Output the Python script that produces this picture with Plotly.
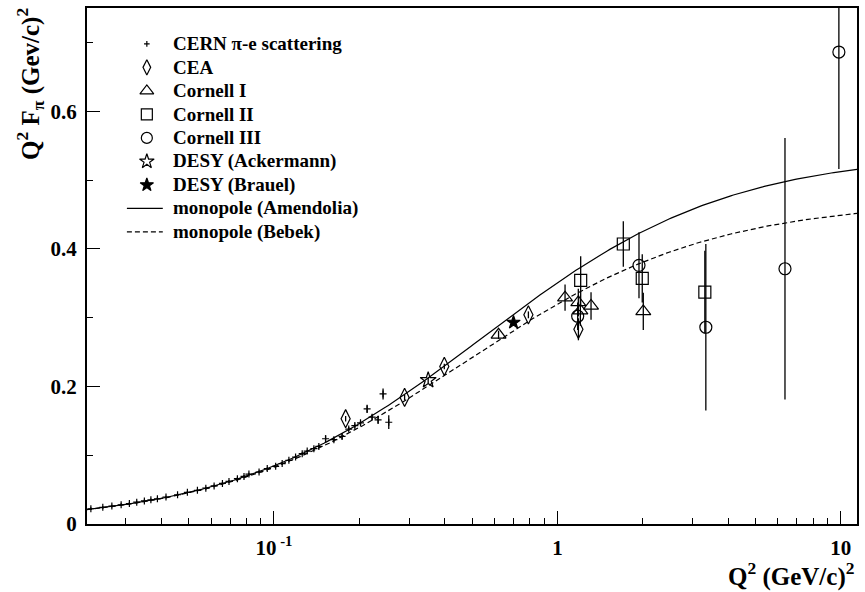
import numpy as np
import plotly.graph_objects as go

# ---- measurements: Q^2 (GeV/c)^2, Q^2 F_pi (GeV/c)^2 and its error ----
cern_q2 = [0.0226, 0.0249, 0.0268, 0.0289, 0.0309, 0.0328, 0.0349, 0.0368, 0.0388,
           0.0416, 0.0457, 0.0495, 0.0537, 0.0575, 0.0615, 0.0658, 0.0694, 0.0743,
           0.0784, 0.0816, 0.0886, 0.0947, 0.1014, 0.1069, 0.1129, 0.1192, 0.1258,
           0.1310, 0.1383, 0.1440, 0.1521, 0.1627, 0.1739, 0.1836, 0.1929, 0.2020,
           0.2131, 0.2219, 0.2330, 0.2426, 0.2541]
cern_val = [0.0222, 0.0242, 0.0261, 0.0280, 0.0298, 0.0317, 0.0335, 0.0351, 0.0367,
            0.0391, 0.0425, 0.0460, 0.0490, 0.0521, 0.0553, 0.0590, 0.0619, 0.0659,
            0.0692, 0.0725, 0.0756, 0.0806, 0.0839, 0.0878, 0.0926, 0.0973, 0.1022,
            0.1060, 0.1095, 0.1128, 0.1239, 0.1225, 0.1273, 0.1380, 0.1430, 0.1470,
            0.1673, 0.1552, 0.1514, 0.1890, 0.1479]
cern_err = [0.002] * 30 + [0.005, 0.003, 0.004, 0.003, 0.003, 0.003,
                           0.006, 0.004, 0.006, 0.008, 0.010]

cea_q2 = [0.179, 0.289, 0.399, 0.790, 1.186]
cea_val = [0.153, 0.184, 0.229, 0.304, 0.283]
cea_err = [0.004, 0.004, 0.004, 0.005, 0.016]

cornell1_q2 = [0.620, 1.064, 1.185, 1.205, 1.314, 2.009]
cornell1_val = [0.275, 0.329, 0.322, 0.310, 0.317, 0.309]
cornell1_err = [0.006, 0.019, 0.020, 0.022, 0.020, 0.027]

cornell2_q2 = [1.208, 1.708, 1.992, 3.312]
cornell2_val = [0.354, 0.407, 0.357, 0.337]
cornell2_err = [0.035, 0.033, 0.035, 0.060]

cornell3_q2 = [1.179, 1.940, 3.339, 6.351, 9.840]
cornell3_val = [0.302, 0.376, 0.286, 0.371, 0.686]
cornell3_err = [0.020, 0.048, 0.121, 0.190, 0.170]

desy_ack_q2 = [0.350]
desy_ack_val = [0.209]
desy_ack_err = [0.004]

desy_brauel_q2 = [0.700]
desy_brauel_val = [0.293]
desy_brauel_err = [0.004]

# monopole pole masses squared (GeV^2)
m2_amendolia = 0.54
m2_bebek = 0.47

# legend entries, top to bottom
legend_labels = ["CERN π-e scattering", "CEA", "Cornell I", "Cornell II", "Cornell III",
                 "DESY (Ackermann)", "DESY (Brauel)",
                 "monopole (Amendolia)", "monopole (Bebek)"]

x_min, x_max = 0.0219, 11.4
y_min, y_max = 0.0, 0.75

font_family = "Liberation Serif"

# plot-area geometry in pixels (for the hand-placed legend)
W, H = 865, 592
M_L, M_R, M_T, M_B = 87, 6, 6, 68
PW, PH = W - M_L - M_R, H - M_T - M_B

q2_curve = np.logspace(np.log10(x_min), np.log10(x_max), 300)


def monopole(q2, m2):
    return q2 / (1.0 + q2 / m2)


def bold(s):
    return "<b>" + s + "</b>"


def fx(px):
    return (px - M_L) / PW


def fy(py):
    return (H - M_B - py) / PH


fig = go.Figure()

marker_styles = [
    ("cross-thin-open", 5, 4),
    ("diamond-tall-open", 13, 11),
    ("triangle-up-open", 13, 12),
    ("square-open", 12, 11),
    ("circle-open", 12, 11),
    ("star-open", 12, 11),
    ("star", 10, 10),
]
series = [
    (cern_q2, cern_val, cern_err),
    (cea_q2, cea_val, cea_err),
    (cornell1_q2, cornell1_val, cornell1_err),
    (cornell2_q2, cornell2_val, cornell2_err),
    (cornell3_q2, cornell3_val, cornell3_err),
    (desy_ack_q2, desy_ack_val, desy_ack_err),
    (desy_brauel_q2, desy_brauel_val, desy_brauel_err),
]

fig.add_trace(go.Scatter(
    x=q2_curve, y=monopole(q2_curve, m2_amendolia), mode="lines",
    name=legend_labels[7], showlegend=False, line=dict(color="black", width=1.2),
))
fig.add_trace(go.Scatter(
    x=q2_curve, y=monopole(q2_curve, m2_bebek), mode="lines",
    name=legend_labels[8], showlegend=False,
    line=dict(color="black", width=1.2, dash="5px,3px"),
))

for (xs, ys, errs), (sym, size, _), name in zip(series, marker_styles, legend_labels):
    fig.add_trace(go.Scatter(
        x=xs, y=ys, mode="markers", name=name, showlegend=False,
        marker=dict(symbol=sym, size=size, color="black",
                    line=dict(color="black", width=1.2)),
        error_y=dict(type="data", array=errs, visible=True, width=0,
                     thickness=1.3, color="black"),
    ))

# ---- legend drawn on an overlay axis spanning the plot area ----
row0, row_step = 42.0, 23.6
sym_px, txt_px = 147, 171
line_px = (127, 163)
annotations = []
for i, label in enumerate(legend_labels):
    ry = fy(row0 + i * row_step)
    if i < len(marker_styles):
        sym, _, lsize = marker_styles[i]
        fig.add_trace(go.Scatter(
            x=[fx(sym_px)], y=[ry], xaxis="x2", yaxis="y2", mode="markers",
            showlegend=False, hoverinfo="skip",
            marker=dict(symbol=sym, size=lsize, color="black",
                        line=dict(color="black", width=1.2)),
        ))
    else:
        fig.add_trace(go.Scatter(
            x=[fx(line_px[0]), fx(line_px[1])], y=[ry, ry], xaxis="x2", yaxis="y2",
            mode="lines", showlegend=False, hoverinfo="skip",
            line=dict(color="black", width=1.2,
                      dash="solid" if i == 7 else "5px,3px"),
        ))
    annotations.append(dict(
        text=bold(label), xref="paper", yref="paper", x=fx(txt_px), y=ry,
        xanchor="left", yanchor="middle", showarrow=False,
        font=dict(family=font_family, size=19, color="black"),
    ))

minor_x = [k * 10.0 ** e for e in (-2, -1, 0) for k in range(2, 10)]
minor_x = [v for v in minor_x if x_min < v < x_max]

tick_font = dict(family=font_family, size=21, color="black")

annotations += [
    dict(text=bold("Q<sup>2</sup> (GeV/c)<sup>2</sup>"), xref="paper", yref="paper",
         x=1.0, y=-0.097, xanchor="right", yanchor="middle", showarrow=False,
         font=dict(family=font_family, size=25, color="black")),
    dict(text=bold("Q<sup>2</sup> F<sub>π</sub> (Gev/c)<sup>2</sup>"), xref="paper", yref="paper",
         x=-0.100, y=1.004, xanchor="left", yanchor="top", showarrow=False, textangle=-90,
         font=dict(family=font_family, size=25, color="black")),
]

fig.update_layout(
    width=W, height=H,
    margin=dict(l=M_L, r=M_R, t=M_T, b=M_B),
    paper_bgcolor="white", plot_bgcolor="white",
    font=dict(family=font_family, color="black"),
    showlegend=False,
    xaxis=dict(
        type="log", range=[np.log10(x_min), np.log10(x_max)],
        tickmode="array", tickvals=[0.1, 1, 10],
        ticktext=[bold("10<sup> -1</sup>"), bold("1"), bold("10")],
        ticks="inside", ticklen=13, tickwidth=1.2, tickcolor="black",
        tickfont=tick_font, ticklabelstandoff=4,
        minor=dict(tickmode="array", tickvals=minor_x, ticks="inside",
                   ticklen=6, tickwidth=1.2, tickcolor="black", showgrid=False),
        showline=True, linecolor="black", linewidth=2, mirror=True,
        showgrid=False, zeroline=False,
    ),
    yaxis=dict(
        range=[y_min, y_max],
        tickmode="array", tickvals=[0, 0.2, 0.4, 0.6],
        ticktext=[bold("0"), bold("0.2"), bold("0.4"), bold("0.6")],
        ticks="inside", ticklen=13, tickwidth=1.2, tickcolor="black",
        tickfont=tick_font, ticklabelstandoff=4,
        minor=dict(tickmode="array", tickvals=[0.1, 0.3, 0.5, 0.7], ticks="inside",
                   ticklen=6, tickwidth=1.2, tickcolor="black", showgrid=False),
        showline=True, linecolor="black", linewidth=2, mirror=True,
        showgrid=False, zeroline=False,
    ),
    xaxis2=dict(overlaying="x", range=[0, 1], visible=False, fixedrange=True),
    yaxis2=dict(overlaying="y", range=[0, 1], visible=False, fixedrange=True),
    annotations=annotations,
)

fig.write_html("out.html")
